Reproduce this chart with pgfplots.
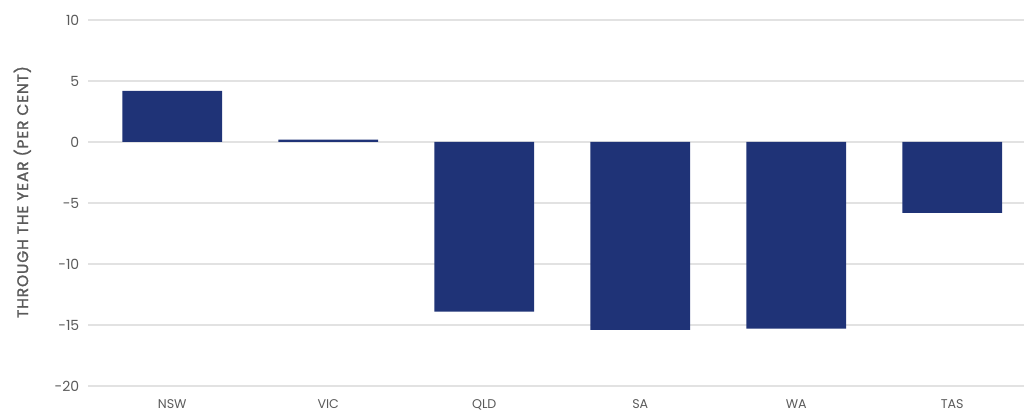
\documentclass[border=0pt]{standalone}
\usepackage{fontspec}
\setmainfont{Poppins}
\newfontfamily\lblfont[LetterSpace=6, FakeBold=1.6]{Poppins}
\usepackage{pgfplots}
\pgfplotsset{compat=1.18}

\definecolor{barnavy}{RGB}{31,51,119}
\definecolor{gridgray}{RGB}{226,226,226}
\definecolor{txtgray}{RGB}{90,90,90}

\begin{document}
\begin{tikzpicture}
\begin{axis}[
    scale only axis,
    width=702pt, height=274.5pt,
    xmin=-0.54, xmax=5.46,
    ymin=-20, ymax=10,
    ytick={-20,-15,...,10},
    xtick=data,
    xticklabels={NSW,VIC,QLD,SA,WA,TAS},
    axis line style={draw=none},
    major tick length=0pt,
    ymajorgrids,
    grid style={gridgray, line width=0.8pt},
    /pgf/number format/assume math mode=true,
    ticklabel style={font=\fontsize{10.5}{12}\selectfont, text=txtgray},
    xticklabel style={font=\fontsize{9.5}{11}\selectfont, text=txtgray, yshift=-7pt},
    yticklabel style={xshift=-3pt},
    ylabel={THROUGH THE YEAR (PER CENT)},
    ylabel style={font=\lblfont\fontsize{11.5}{13}\selectfont, text=txtgray},
    every axis y label/.append style={at={(ticklabel cs:0.53)}, yshift=11pt},
]
\addplot[ybar, bar width=0.64, fill=barnavy, draw=none] coordinates {
    (0,4.2) (1,0.2) (2,-13.9) (3,-15.4) (4,-15.3) (5,-5.8)
};
\end{axis}
\path (current axis.south west) ++(-66pt,-19.5pt) coordinate (bbl);
\path (current axis.north east) ++(4.5pt,15pt) coordinate (bbr);
\useasboundingbox (bbl) rectangle (bbr);
\end{tikzpicture}
\end{document}
